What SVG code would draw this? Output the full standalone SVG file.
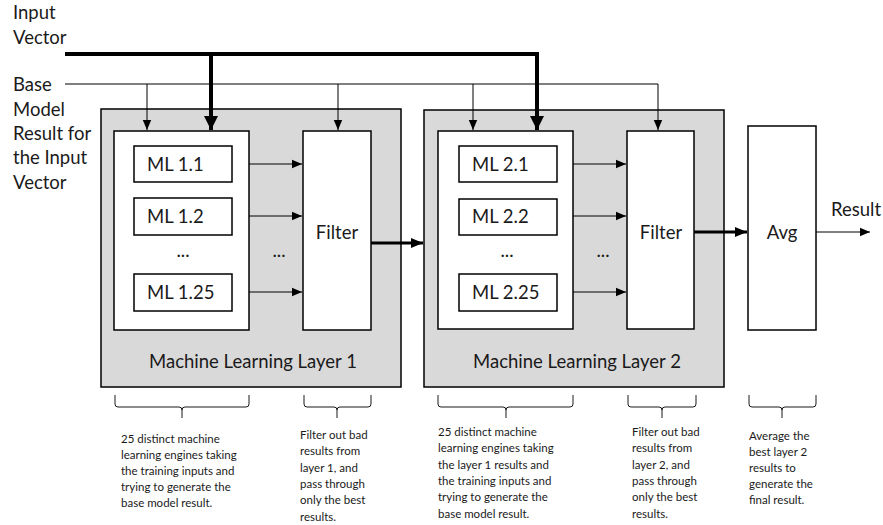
<svg xmlns="http://www.w3.org/2000/svg" width="883" height="525" viewBox="0 0 883 525">
<style>
text{font-family:Lato,"Open Sans","Liberation Sans",sans-serif;fill:#1a1a1a;font-weight:400}
.lbl{font-size:18.5px}
.note{font-size:11.5px}
.layer{fill:#d9d9d9;stroke:#000;stroke-width:1.5}
.box{fill:#fff;stroke:#000;stroke-width:1.5}
.thin{stroke:#000;stroke-width:1;fill:none}
.thick{stroke:#000;stroke-width:4;fill:none}
.mid{stroke:#000;stroke-width:3;fill:none}
.brace{stroke:#000;stroke-width:0.9;fill:none}
</style>
<defs>
<marker id="ah" markerUnits="userSpaceOnUse" markerWidth="10" markerHeight="10" viewBox="0 0 10 10" refX="10" refY="5" orient="auto"><path d="M0,0.8 L10,5 L0,9.2 z"/></marker>
<marker id="ahb" markerUnits="userSpaceOnUse" markerWidth="14" markerHeight="14" viewBox="0 0 14 14" refX="14" refY="7" orient="auto"><path d="M0,0 L14,7 L0,14 z"/></marker>
<marker id="ahm" markerUnits="userSpaceOnUse" markerWidth="12" markerHeight="12" viewBox="0 0 12 12" refX="12" refY="6" orient="auto"><path d="M0,1 L12,6 L0,11 z"/></marker>
</defs>

<g id="input-label">
<text class="lbl" x="13" y="19">Input</text>
<text class="lbl" x="13" y="44">Vector</text>
</g>
<g id="base-label">
<text class="lbl" x="13" y="91">Base</text>
<text class="lbl" x="13" y="116">Model</text>
<text class="lbl" x="13" y="140">Result for</text>
<text class="lbl" x="13" y="164">the Input</text>
<text class="lbl" x="13" y="189">Vector</text>
</g>

<g id="layer1">
<rect class="layer" x="101" y="109" width="300" height="278"/>
<text class="lbl" x="253" y="368" text-anchor="middle">Machine Learning Layer 1</text>
</g>
<g id="ml1-group">
<rect class="box" x="114" y="131" width="135" height="199"/>
<text class="lbl" x="183" y="257" text-anchor="middle">...</text>
</g>
<g id="ml1-1"><rect class="box" x="134" y="146" width="98" height="36"/><text class="lbl" x="147" y="171">ML 1.1</text></g>
<g id="ml1-2"><rect class="box" x="134" y="198" width="98" height="37"/><text class="lbl" x="147" y="223">ML 1.2</text></g>
<g id="ml1-25"><rect class="box" x="134" y="274" width="98" height="37"/><text class="lbl" x="147" y="299">ML 1.25</text></g>
<g id="filter1"><rect class="box" x="303" y="131" width="68" height="199"/><text class="lbl" x="337" y="239" text-anchor="middle">Filter</text></g>
<text class="lbl" x="279" y="257" text-anchor="middle">...</text>

<g id="layer2">
<rect class="layer" x="424" y="110" width="300" height="277"/>
<text class="lbl" x="577" y="368" text-anchor="middle">Machine Learning Layer 2</text>
</g>
<g id="ml2-group">
<rect class="box" x="438" y="131" width="135" height="198"/>
<text class="lbl" x="507" y="257" text-anchor="middle">...</text>
</g>
<g id="ml2-1"><rect class="box" x="459" y="146" width="98" height="36"/><text class="lbl" x="472" y="171">ML 2.1</text></g>
<g id="ml2-2"><rect class="box" x="459" y="199" width="98" height="36"/><text class="lbl" x="472" y="223">ML 2.2</text></g>
<g id="ml2-25"><rect class="box" x="459" y="274" width="98" height="37"/><text class="lbl" x="472" y="299">ML 2.25</text></g>
<g id="filter2"><rect class="box" x="627" y="131" width="67" height="198"/><text class="lbl" x="661" y="239" text-anchor="middle">Filter</text></g>
<text class="lbl" x="603" y="257" text-anchor="middle">...</text>

<g id="avg"><rect class="box" x="748" y="126" width="68" height="204"/><text class="lbl" x="782" y="239" text-anchor="middle">Avg</text></g>
<text class="lbl" x="831" y="216">Result</text>

<g id="connectors">
<path class="thick" d="M65,54 H537"/>
<path class="thick" d="M211,52 V130" marker-end="url(#ahb)"/>
<path class="thick" d="M537,52 V130" marker-end="url(#ahb)"/>
<path class="thin" d="M65,84 H658"/>
<path class="thin" d="M147,84 V130" marker-end="url(#ah)"/>
<path class="thin" d="M338,84 V130" marker-end="url(#ah)"/>
<path class="thin" d="M473,84 V130" marker-end="url(#ah)"/>
<path class="thin" d="M658,84 V130" marker-end="url(#ah)"/>
<path class="thin" d="M249,164 H302" marker-end="url(#ah)"/>
<path class="thin" d="M249,216 H302" marker-end="url(#ah)"/>
<path class="thin" d="M249,292 H302" marker-end="url(#ah)"/>
<path class="thin" d="M573,164 H626" marker-end="url(#ah)"/>
<path class="thin" d="M573,216 H626" marker-end="url(#ah)"/>
<path class="thin" d="M573,292 H626" marker-end="url(#ah)"/>
<path class="mid" d="M371,243 H423" marker-end="url(#ahm)"/>
<path class="mid" d="M694,232 H747" marker-end="url(#ahm)"/>
<path class="thin" d="M816,232 H870" marker-end="url(#ah)"/>
</g>

<g id="braces">
<path class="brace" d="M115,395 V404 Q115,407 118,407 H179 Q182,407 182,410 V418 M182,410 Q182,407 185,407 H246 Q249,407 249,404 V395"/>
<path class="brace" d="M304,395 V404 Q304,407 307,407 H334 Q337,407 337,410 V418 M337,410 Q337,407 340,407 H368 Q371,407 371,404 V395"/>
<path class="brace" d="M438,395 V404 Q438,407 441,407 H503 Q506,407 506,410 V418 M506,410 Q506,407 509,407 H570 Q573,407 573,404 V395"/>
<path class="brace" d="M628,395 V404 Q628,407 631,407 H659 Q662,407 662,410 V418 M662,410 Q662,407 665,407 H693 Q696,407 696,404 V395"/>
<path class="brace" d="M749,395 V404 Q749,407 752,407 H779 Q782,407 782,410 V418 M782,410 Q782,407 785,407 H813 Q816,407 816,404 V395"/>
</g>

<g id="note1">
<text class="note" x="121" y="443">25 distinct machine</text>
<text class="note" x="121" y="459">learning engines taking</text>
<text class="note" x="121" y="475">the training inputs and</text>
<text class="note" x="121" y="491">trying to generate the</text>
<text class="note" x="121" y="507">base model result.</text>
</g>
<g id="note2">
<text class="note" x="300" y="439">Filter out bad</text>
<text class="note" x="300" y="455">results from</text>
<text class="note" x="300" y="472">layer 1, and</text>
<text class="note" x="300" y="488">pass through</text>
<text class="note" x="300" y="504">only the best</text>
<text class="note" x="300" y="521">results.</text>
</g>
<g id="note3">
<text class="note" x="438" y="436">25 distinct machine</text>
<text class="note" x="438" y="452">learning engines taking</text>
<text class="note" x="438" y="469">the layer 1 results and</text>
<text class="note" x="438" y="485">the training inputs and</text>
<text class="note" x="438" y="501">trying to generate the</text>
<text class="note" x="438" y="518">base model result.</text>
</g>
<g id="note4">
<text class="note" x="632" y="436">Filter out bad</text>
<text class="note" x="632" y="452">results from</text>
<text class="note" x="632" y="469">layer 2, and</text>
<text class="note" x="632" y="485">pass through</text>
<text class="note" x="632" y="501">only the best</text>
<text class="note" x="632" y="518">results.</text>
</g>
<g id="note5">
<text class="note" x="749" y="440">Average the</text>
<text class="note" x="749" y="456">best layer 2</text>
<text class="note" x="749" y="472">results to</text>
<text class="note" x="749" y="488">generate the</text>
<text class="note" x="749" y="504">final result.</text>
</g>
</svg>
